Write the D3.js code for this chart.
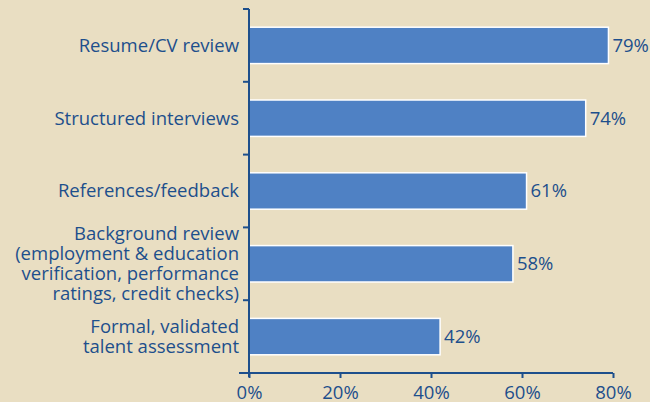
<!DOCTYPE html>
<html>
<head>
<meta charset="utf-8">
<script src="https://cdn.jsdelivr.net/npm/d3@7"></script>
<style>
  html, body { margin: 0; padding: 0; background: #e9dec2; }
  svg { display: block; }
</style>
</head>
<body>
<svg id="chart"></svg>
<script>
var width = 650, height = 402;

// data
var categories = [
  ["Resume/CV review"],
  ["Structured interviews"],
  ["References/feedback"],
  ["Background review", "(employment & education", "verification, performance", "ratings, credit checks)"],
  ["Formal, validated", "talent assessment"]
];
var values = [79, 74, 61, 58, 42];
var xTicks = [0, 20, 40, 60, 80];

var textColor = "#1d4f8c";
var barColor = "#4f81c4";
var font = "'Open Sans', sans-serif";
var fontSize = "18.5px";

var margin = { top: 9, right: 37, bottom: 29, left: 249 };

var svg = d3.select("#chart").attr("width", width).attr("height", height)
  .style("font-family", font);

svg.append("rect").attr("width", width).attr("height", height).attr("fill", "#e9dec2");

var x = d3.scaleLinear()
  .domain([0, 80])
  .range([margin.left, width - margin.right]);

var y = d3.scaleBand()
  .domain(d3.range(values.length))
  .range([margin.top, height - margin.bottom])
  .paddingInner(0.5)
  .paddingOuter(0.25);

// bars
svg.selectAll("rect.bar")
  .data(values)
  .enter().append("rect")
  .attr("class", "bar")
  .attr("x", x(0))
  .attr("y", function (d, i) { return y(i); })
  .attr("width", function (d) { return x(d) - x(0); })
  .attr("height", y.bandwidth())
  .attr("fill", barColor)
  .attr("stroke", "#ffffff")
  .attr("stroke-width", 1.5);

// value labels
svg.selectAll("text.val")
  .data(values)
  .enter().append("text")
  .attr("class", "val")
  .attr("x", function (d) { return x(d) + 4; })
  .attr("y", function (d, i) { return y(i) + y.bandwidth() / 2; })
  .attr("dy", "0.35em")
  .attr("fill", textColor)
  .style("font-size", fontSize)
  .text(function (d) { return d + "%"; });

// category labels
var lineH = 20;
svg.selectAll("text.cat")
  .data(categories)
  .enter().append("text")
  .attr("class", "cat")
  .attr("text-anchor", "end")
  .attr("fill", textColor)
  .style("font-size", fontSize)
  .each(function (lines, i) {
    var cy = y(i) + y.bandwidth() / 2;
    var top = cy - (lines.length - 1) * lineH / 2;
    d3.select(this).selectAll("tspan")
      .data(lines)
      .enter().append("tspan")
      .attr("x", margin.left - 10)
      .attr("y", function (d, j) { return top + j * lineH; })
      .attr("dy", "0.35em")
      .text(function (d) { return d; });
  });

// y axis: line with ticks at the band boundaries
var step = y.step();
var yTickPos = d3.range(values.length + 1).map(function (i) {
  return y(0) - y.paddingInner() * step / 2 + i * step;
});
var yAxis = svg.append("g");
yAxis.append("line")
  .attr("x1", x(0)).attr("x2", x(0))
  .attr("y1", yTickPos[0]).attr("y2", yTickPos[yTickPos.length - 1] + 4)
  .attr("stroke", textColor).attr("stroke-width", 2);
yAxis.selectAll("line.tick")
  .data(yTickPos.slice(0, -1))
  .enter().append("line")
  .attr("class", "tick")
  .attr("x1", x(0) - 6).attr("x2", x(0))
  .attr("y1", function (d) { return d; }).attr("y2", function (d) { return d; })
  .attr("stroke", textColor).attr("stroke-width", 2);

// x axis
var xAxis = svg.append("g")
  .attr("transform", "translate(0," + yTickPos[yTickPos.length - 1] + ")")
  .call(d3.axisBottom(x).tickValues(xTicks).tickSize(5).tickSizeOuter(0)
    .tickFormat(function (d) { return d + "%"; }));
xAxis.select(".domain")
  .attr("d", "M" + (x(0) - 10) + ",0H" + x(80))
  .attr("stroke", textColor).attr("stroke-width", 2);
xAxis.selectAll(".tick line").attr("stroke", textColor).attr("stroke-width", 2);
xAxis.selectAll(".tick text")
  .attr("fill", textColor)
  .attr("y", 13)
  .style("font-size", fontSize)
  .style("font-family", font);
</script>
</body>
</html>
